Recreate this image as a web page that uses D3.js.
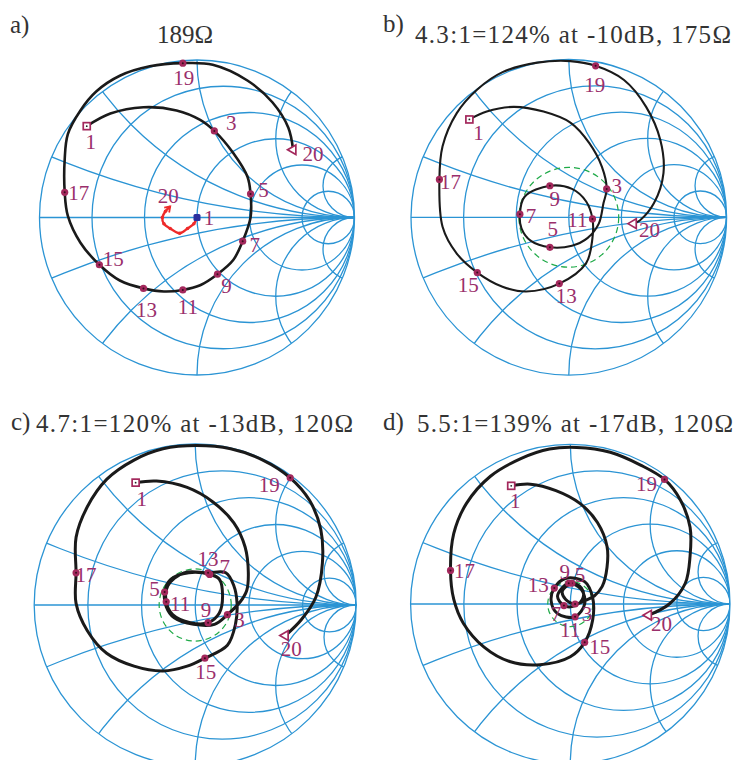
<!DOCTYPE html>
<html><head><meta charset="utf-8">
<script src="https://cdn.jsdelivr.net/npm/d3@7"></script>
<style>body{margin:0;background:#fff}svg{display:block}</style>
</head><body><svg id="c" width="736" height="760"></svg>
<script>
// ---------------- data ----------------
const panelLetters = ["a)", "b)", "c)", "d)"];
const titles = ["189Ω", "4.3:1=124% at -10dB, 175Ω", "4.7:1=120% at -13dB, 120Ω", "5.5:1=139% at -17dB, 120Ω"];
const returnLossDb = [null, -10, -13, -17];
const resistances = [0.2, 0.5, 1, 2, 5];
const reactances = [0.2, 0.5, 1, 2, 5];

// reflection coefficient traces [re, im, frequency-point label (0 = curve point only)]
const traceA = [[-0.70,0.58,1],[-0.55,0.66,0],[-0.34,0.70,0],[-0.13,0.68,0],[0.02,0.62,0],[0.11,0.55,3],[0.23,0.41,0],[0.32,0.26,0],[0.34,0.15,5],[0.34,0.00,0],[0.29,-0.15,7],[0.23,-0.27,0],[0.13,-0.36,9],[0.02,-0.43,0],[-0.09,-0.46,11],[-0.21,-0.47,0],[-0.34,-0.45,13],[-0.49,-0.40,0],[-0.62,-0.30,15],[-0.74,-0.16,0],[-0.82,0.01,0],[-0.84,0.16,17],[-0.84,0.37,0],[-0.82,0.53,0],[-0.74,0.68,0],[-0.64,0.80,0],[-0.49,0.90,0],[-0.30,0.96,0],[-0.09,0.98,19],[0.10,0.97,0],[0.32,0.87,0],[0.48,0.73,0],[0.58,0.57,0],[0.61,0.43,20]];
const traceB = [[-0.63,0.62,1],[-0.52,0.67,0],[-0.35,0.70,0],[-0.16,0.67,0],[0.01,0.60,0],[0.13,0.47,0],[0.21,0.32,0],[0.24,0.18,3],[0.22,0.09,0],[0.19,-0.04,0],[0.12,-0.13,0],[0.02,-0.18,0],[-0.12,-0.19,5],[-0.24,-0.15,0],[-0.30,-0.07,0],[-0.31,0.02,7],[-0.28,0.13,0],[-0.12,0.20,9],[0.02,0.18,0],[0.11,0.10,0],[0.15,-0.01,11],[0.15,-0.13,0],[0.11,-0.29,0],[-0.06,-0.42,13],[-0.27,-0.47,0],[-0.42,-0.44,0],[-0.58,-0.35,15],[-0.71,-0.23,0],[-0.80,-0.06,0],[-0.82,0.24,17],[-0.80,0.45,0],[-0.71,0.66,0],[-0.58,0.81,0],[-0.42,0.92,0],[-0.20,0.98,0],[0.01,0.99,0],[0.17,0.96,19],[0.35,0.87,0],[0.49,0.70,0],[0.58,0.49,0],[0.60,0.28,0],[0.54,0.09,0],[0.45,-0.02,0],[0.41,-0.04,20]];
const traceC = [[-0.37,0.76,1],[-0.24,0.77,0],[-0.05,0.73,0],[0.11,0.64,0],[0.24,0.51,0],[0.31,0.36,0],[0.33,0.20,0],[0.32,0.09,0],[0.28,0.02,0],[0.20,-0.06,3],[0.12,-0.12,0],[-0.01,-0.12,0],[-0.13,-0.08,0],[-0.18,-0.01,0],[-0.19,0.08,5],[-0.15,0.16,0],[-0.04,0.20,0],[0.09,0.19,7],[0.15,0.16,0],[0.17,0.06,0],[0.15,-0.05,0],[0.08,-0.11,9],[-0.03,-0.11,0],[-0.14,-0.06,0],[-0.18,0.02,11],[-0.17,0.12,0],[-0.07,0.20,0],[0.08,0.20,13],[0.19,0.20,0],[0.24,0.12,0],[0.26,0.01,0],[0.25,-0.12,0],[0.20,-0.25,0],[0.06,-0.33,15],[-0.05,-0.38,0],[-0.20,-0.41,0],[-0.38,-0.38,0],[-0.55,-0.30,0],[-0.67,-0.16,0],[-0.74,0.01,0],[-0.74,0.20,17],[-0.74,0.42,0],[-0.67,0.61,0],[-0.55,0.78,0],[-0.38,0.90,0],[-0.20,0.97,0],[0.01,0.99,0],[0.22,0.97,0],[0.42,0.90,0],[0.59,0.79,19],[0.71,0.65,0],[0.78,0.47,0],[0.79,0.26,0],[0.75,0.05,0],[0.66,-0.09,0],[0.56,-0.19,20]];
const traceD = [[-0.37,0.74,1],[-0.25,0.75,0],[-0.09,0.71,0],[0.06,0.63,0],[0.17,0.51,0],[0.23,0.36,0],[0.23,0.23,0],[0.20,0.11,0],[0.15,0.05,0],[0.09,0.02,0],[0.03,0.00,3],[-0.03,0.03,0],[-0.05,0.08,0],[0.01,0.13,5],[0.07,0.10,0],[0.08,0.04,0],[0.03,-0.01,0],[-0.04,-0.01,7],[-0.08,0.05,0],[-0.01,0.13,9],[0.07,0.09,0],[0.09,0.00,0],[0.03,-0.08,11],[-0.08,-0.06,0],[-0.12,0.02,0],[-0.10,0.10,13],[-0.03,0.16,0],[0.09,0.14,0],[0.14,0.04,0],[0.14,-0.10,0],[0.09,-0.24,15],[0.00,-0.33,0],[-0.19,-0.38,0],[-0.38,-0.36,0],[-0.54,-0.27,0],[-0.67,-0.12,0],[-0.73,0.03,0],[-0.75,0.21,17],[-0.73,0.44,0],[-0.65,0.63,0],[-0.50,0.80,0],[-0.31,0.91,0],[-0.13,0.97,0],[0.04,0.98,0],[0.25,0.95,0],[0.44,0.87,0],[0.59,0.78,19],[0.69,0.65,0],[0.75,0.48,0],[0.75,0.30,0],[0.72,0.13,0],[0.62,0.00,0],[0.49,-0.07,20]];
// matched trace in panel a
const redTraceA = [[0.00,0.00],[-0.02,-0.04],[-0.06,-0.07],[-0.11,-0.10],[-0.17,-0.07],[-0.21,-0.04],[-0.22,0.00],[-0.20,0.04],[-0.17,0.07]];
const redLabels = ["1", "20"];

// ---------------- layout ----------------
const layout = [
  {cx:197,   cy:217.5, R:157.5, lw:2.6, lx:10,  ly:33,  tx:157, ty:43,  tw:56},
  {cx:568.8, cy:217.3, R:157.8, lw:2.1, lx:383, ly:32,  tx:415, ty:43,  tw:316},
  {cx:195.2, cy:605,   R:161,   lw:3,   lx:11,  ly:430, tx:36,  ty:432, tw:317},
  {cx:570.3, cy:604,   R:159.7, lw:3,   lx:383, ly:430, tx:417, ty:432, tw:316}
];
const labelOffsets = [
  {1:[4,16],3:[17,-8],5:[13,-4],7:[12,4],9:[9,12],11:[5,17],13:[3,22],15:[14,-6],17:[14,1],19:[1,15],20:[20,4]},
  {1:[9,14],3:[10,-3],5:[3,-18],7:[11,2],9:[5,13],11:[-15,1],13:[7,12],15:[-9,13],17:[11,3],19:[-1,19],20:[16,6]},
  {1:[6,16],3:[12,5],5:[-10,-3],7:[15,-7],9:[-2,-13],11:[14,2],13:[0,-14],15:[1,14],17:[10,2],19:[-21,7],20:[6,13]},
  {1:[4,15],3:[12,10],5:[8,-8],7:[-8,8],9:[-4,-11],11:[-5,13],13:[-16,-3],15:[15,5],17:[14,1],19:[-18,5],20:[13,9]}
];
const redLabelOffsets = [[12,1],[-2,-10]];

const GRID = "#2b94d4", MAG = "#a3285c", LABEL = "#9a2f6c", GREEN = "#1faa48";
const FONT = "'Liberation Serif','Times New Roman',serif";
const LFS = 21, TFS = 25;

const svg = d3.select("#c");
const traces = [traceA, traceB, traceC, traceD];

layout.forEach((L, i) => {
  const x = d3.scaleLinear().domain([-1, 1]).range([L.cx - L.R, L.cx + L.R]);
  const y = d3.scaleLinear().domain([-1, 1]).range([L.cy + L.R, L.cy - L.R]);
  const unit = x(1) - x(0);
  const g = svg.append("g");
  const clipId = "clip" + i;
  svg.append("clipPath").attr("id", clipId).append("circle")
    .attr("cx", x(0)).attr("cy", y(0)).attr("r", unit);

  const grid = g.append("g").attr("fill", "none").attr("stroke", GRID).attr("stroke-width", 1.3);
  const inner = grid.append("g").attr("clip-path", `url(#${clipId})`);
  resistances.forEach(r => inner.append("circle")
    .attr("cx", x(r / (1 + r))).attr("cy", y(0)).attr("r", x(1 / (1 + r)) - x(0)));
  reactances.forEach(xv => [xv, -xv].forEach(s => inner.append("circle")
    .attr("cx", x(1)).attr("cy", y(1 / s)).attr("r", x(1 / Math.abs(s)) - x(0))));
  inner.append("line").attr("x1", x(-1)).attr("x2", x(1)).attr("y1", y(0)).attr("y2", y(0));
  grid.append("circle").attr("cx", x(0)).attr("cy", y(0)).attr("r", unit);

  // return-loss circle
  if (returnLossDb[i] !== null) {
    g.append("circle").attr("cx", x(0)).attr("cy", y(0))
      .attr("r", x(Math.pow(10, returnLossDb[i] / 20)) - x(0))
      .attr("fill", "none").attr("stroke", GREEN).attr("stroke-width", 1.2)
      .attr("stroke-dasharray", "6,4");
  }

  const line = d3.line().x(d => x(d[0])).y(d => y(d[1])).curve(d3.curveCatmullRom.alpha(0.5));
  const tr = traces[i];
  g.append("path").attr("d", line(tr)).attr("fill", "none")
    .attr("stroke", "#1a1a1a").attr("stroke-width", L.lw).attr("stroke-linecap", "round");

  // matched trace (panel a)
  if (i === 0) {
    g.append("path").attr("d", line(redTraceA)).attr("fill", "none")
      .attr("stroke", "#ee2a2a").attr("stroke-width", 2.4);
    g.selectAll(".rd").data(redTraceA.slice(1, -1)).join("circle")
      .attr("cx", d => x(d[0])).attr("cy", d => y(d[1])).attr("r", 1.8).attr("fill", "#ee2a2a");
    const e = redTraceA[redTraceA.length - 1], p = redTraceA[redTraceA.length - 2];
    const ang = Math.atan2(y(e[1]) - y(p[1]), x(e[0]) - x(p[0])) * 180 / Math.PI;
    g.append("path").attr("d", "M-5,-3.5 L0,0 L-5,3.5")
      .attr("transform", `translate(${x(e[0])},${y(e[1])}) rotate(${ang})`)
      .attr("fill", "none").attr("stroke", "#ee2a2a").attr("stroke-width", 1.8);
    const s = redTraceA[0];
    g.append("rect").attr("x", x(s[0]) - 3.5).attr("y", y(s[1]) - 3.5)
      .attr("width", 7).attr("height", 7).attr("rx", 1.5).attr("fill", "#2b2f9e");
    [s, e].forEach((d, k) => g.append("text")
      .attr("x", x(d[0]) + redLabelOffsets[k][0])
      .attr("y", y(d[1]) + redLabelOffsets[k][1] + LFS * 0.33)
      .attr("text-anchor", "middle").attr("font-family", FONT).attr("font-size", LFS)
      .attr("fill", LABEL).text(redLabels[k]));
  }

  // markers
  const marks = tr.filter(d => d[2] > 0);
  marks.forEach(d => {
    const px = x(d[0]), py = y(d[1]);
    if (d[2] === 1) {
      g.append("rect").attr("x", px - 3.5).attr("y", py - 3.5).attr("width", 7).attr("height", 7)
        .attr("fill", "#fff").attr("stroke", MAG).attr("stroke-width", 1.7);
      g.append("circle").attr("cx", px).attr("cy", py).attr("r", 0.9).attr("fill", "#222");
    } else if (d[2] === 20) {
      g.append("path").attr("d", d3.symbol(d3.symbolTriangle, 40)())
        .attr("transform", `translate(${px},${py}) rotate(-90)`)
        .attr("fill", "#fff").attr("stroke", MAG).attr("stroke-width", 1.7);
    } else {
      g.append("circle").attr("cx", px).attr("cy", py).attr("r", 3.6).attr("fill", MAG);
      g.append("circle").attr("cx", px).attr("cy", py).attr("r", 1).attr("fill", "#3a0d1e");
    }
    const o = labelOffsets[i][d[2]];
    g.append("text").attr("x", px + o[0]).attr("y", py + o[1] + LFS * 0.33)
      .attr("text-anchor", "middle").attr("font-family", FONT).attr("font-size", LFS)
      .attr("fill", LABEL).text(d[2]);
  });

  // titles
  svg.append("text").attr("x", L.lx).attr("y", L.ly).attr("font-family", FONT)
    .attr("font-size", TFS).attr("fill", "#333").text(panelLetters[i]);
  svg.append("text").attr("x", L.tx).attr("y", L.ty).attr("font-family", FONT)
    .attr("font-size", TFS).attr("fill", "#333")
    .attr("textLength", L.tw).attr("lengthAdjust", "spacing").text(titles[i]);
});
</script></body></html>
